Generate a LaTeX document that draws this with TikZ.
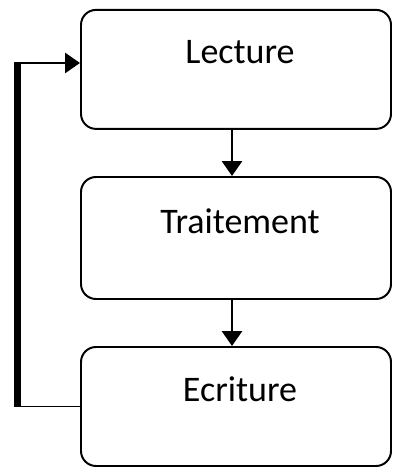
\documentclass[tikz,border=0pt]{standalone}
\usepackage{fontspec}
\setmainfont{Carlito}
\usetikzlibrary{arrows.meta}
\tikzstyle{stage}=[draw,rounded corners=0.375cm,line width=1.4pt,minimum width=7.75cm,minimum height=2.975cm,inner sep=0pt]
\tikzstyle{stagetext}=[font=\fontsize{25.6}{30}\selectfont,xshift=0.1cm,yshift=0.43cm]
\tikzstyle{flow}=[line width=2.1pt,-{Triangle[length=0.375cm,width=0.5cm]}]

\begin{document}
\begin{tikzpicture}
\useasboundingbox (0, 0) rectangle (9.825, 11.675);
\node[stage, label={[stagetext]center:Lecture}] at (5.9, 9.94) (lect) {};
\node[stage, minimum height=3.05cm, label={[stagetext]center:Traitement}] at (5.9, 5.725) (trait) {};
\node[stage, label={[stagetext]center:Ecriture}] at (5.9, 1.5125) (ecri) {};
\coordinate (back) at (0.44, 0);
\draw[flow] ([xshift=-0.1cm]lect.south) -- ([xshift=-0.1cm]trait.north);
\draw[flow] ([xshift=-0.1cm]trait.south) -- ([xshift=-0.1cm]ecri.north);
% retour vers la lecture
\draw[line width=1.4pt] (ecri.west) -- ([xshift=-2.5pt]ecri.west -| back);
\draw[line width=5pt] (ecri.west -| back) -- ([yshift=1pt]lect.west -| back) -- +(0, 0.16cm);
\draw[flow] ([xshift=-2.5pt, yshift=0.16cm]lect.west -| back) -- ([yshift=0.16cm]lect.west);
\end{tikzpicture}
\end{document}
